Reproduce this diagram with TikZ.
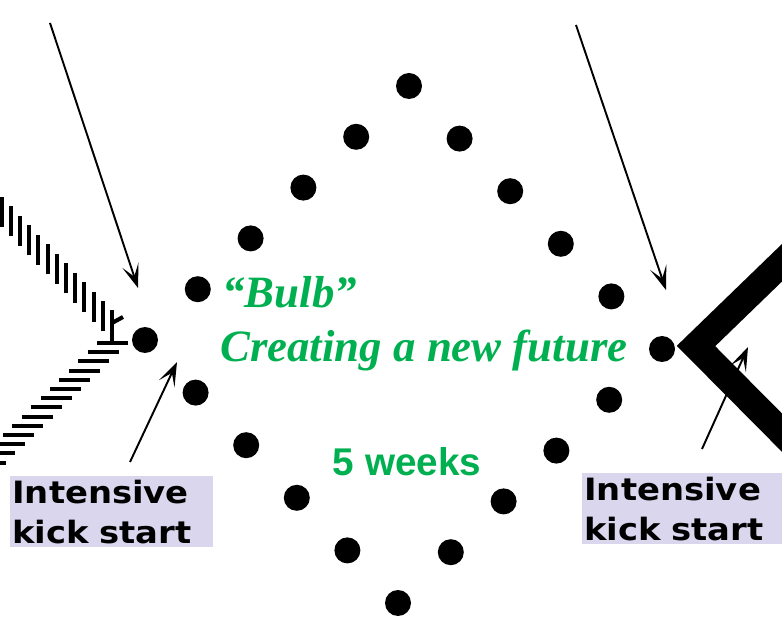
\documentclass[tikz,border=0pt]{standalone}
\usepackage{fontspec}
\setmainfont{Liberation Serif}
\newfontfamily\kickfont[FakeStretch=1.1]{DejaVu Sans}
\newfontfamily\weekfont{Liberation Sans}
\usetikzlibrary{arrows.meta,calc}
\definecolor{bulbgreen}{RGB}{0,176,80}
\definecolor{kickbg}{RGB}{218,214,237}

\begin{document}
\begin{tikzpicture}[
	dot/.style={circle,fill=black,inner sep=0pt,minimum size=0.52cm},
	pointer/.style={line width=1.1pt,-{Stealth[length=0.48cm,width=0.34cm,inset=0.24cm]}},
	hatch/.style={line width=2.3pt},
	kick/.style={fill=kickbg,anchor=north west,align=left,text width=3.98cm,inner xsep=0.04cm,inner ysep=0.07cm,font=\kickfont\bfseries\fontsize{17.5}{22.7}\selectfont},
	green text/.style={text=bulbgreen,inner sep=0pt}]
	\useasboundingbox (0,0) rectangle (15.64,12.84);
	\clip (0,0) rectangle (15.64,12.84);
	\node[dot] (l) at (2.90,6.04) {};
	\node[dot] (t) at (8.18,11.12) {};
	\node[dot] (r) at (13.24,5.86) {};
	\node[dot] (b) at (7.96,0.78) {};
	\foreach \p/\q in {l/t,t/r,r/b,b/l}
		\foreach \i in {1,...,4}
			\node[dot] (\p\q\i) at ($(\p)!\i/5!(\q)$) {};
	\draw[line width=0.54cm] (16.44,8.36) -- (13.92,5.92) -- (16.44,3.38);
	\foreach \k in {1,...,13}
		\draw[hatch] ({2.24-0.184*\k},{6.02+0.19*\k}) -- ++(0,0.6);
	\foreach \i in {0,...,14}
		\draw[hatch] ({1.94-0.188*\i},{5.98-0.184*\i}) -- ++(0.62,0);
	\draw[hatch] (2.24,5.98) -- (2.24,6.64);
	\draw[hatch] (2.24,6.38) -- (2.46,6.50);
	\coordinate (tlfrom) at (1.00,12.38);
	\coordinate (tlto) at (2.76,7.08);
	\coordinate (trfrom) at (11.52,12.34);
	\coordinate (trto) at (13.32,7.04);
	\coordinate (blfrom) at (2.60,3.60);
	\coordinate (blto) at (3.54,5.60);
	\coordinate (brfrom) at (14.04,3.86);
	\coordinate (brto) at (14.96,5.90);
	\draw[pointer] (tlfrom) -- (tlto);
	\draw[pointer] (trfrom) -- (trto);
	\draw[pointer] (blfrom) -- (blto);
	\draw[pointer] (brfrom) -- (brto);
	\node[green text,anchor=base west,font=\bfseries\itshape\fontsize{25.5}{30}\selectfont] (bulb) at (4.44,6.68) {“Bulb”};
	\node[green text,anchor=base west,font=\bfseries\itshape\fontsize{25.5}{30}\selectfont] (future) at (4.40,5.60) {Creating a new future};
	\node[green text,anchor=base,font=\weekfont\bfseries\fontsize{22}{26}\selectfont] (weeks) at (8.14,3.32) {5 weeks};
	\node[kick] (kickL) at (0.20,3.32) {Intensive\\kick start};
	\node[kick] (kickR) at (11.64,3.38) {Intensive\\kick start};
\end{tikzpicture}
\end{document}
